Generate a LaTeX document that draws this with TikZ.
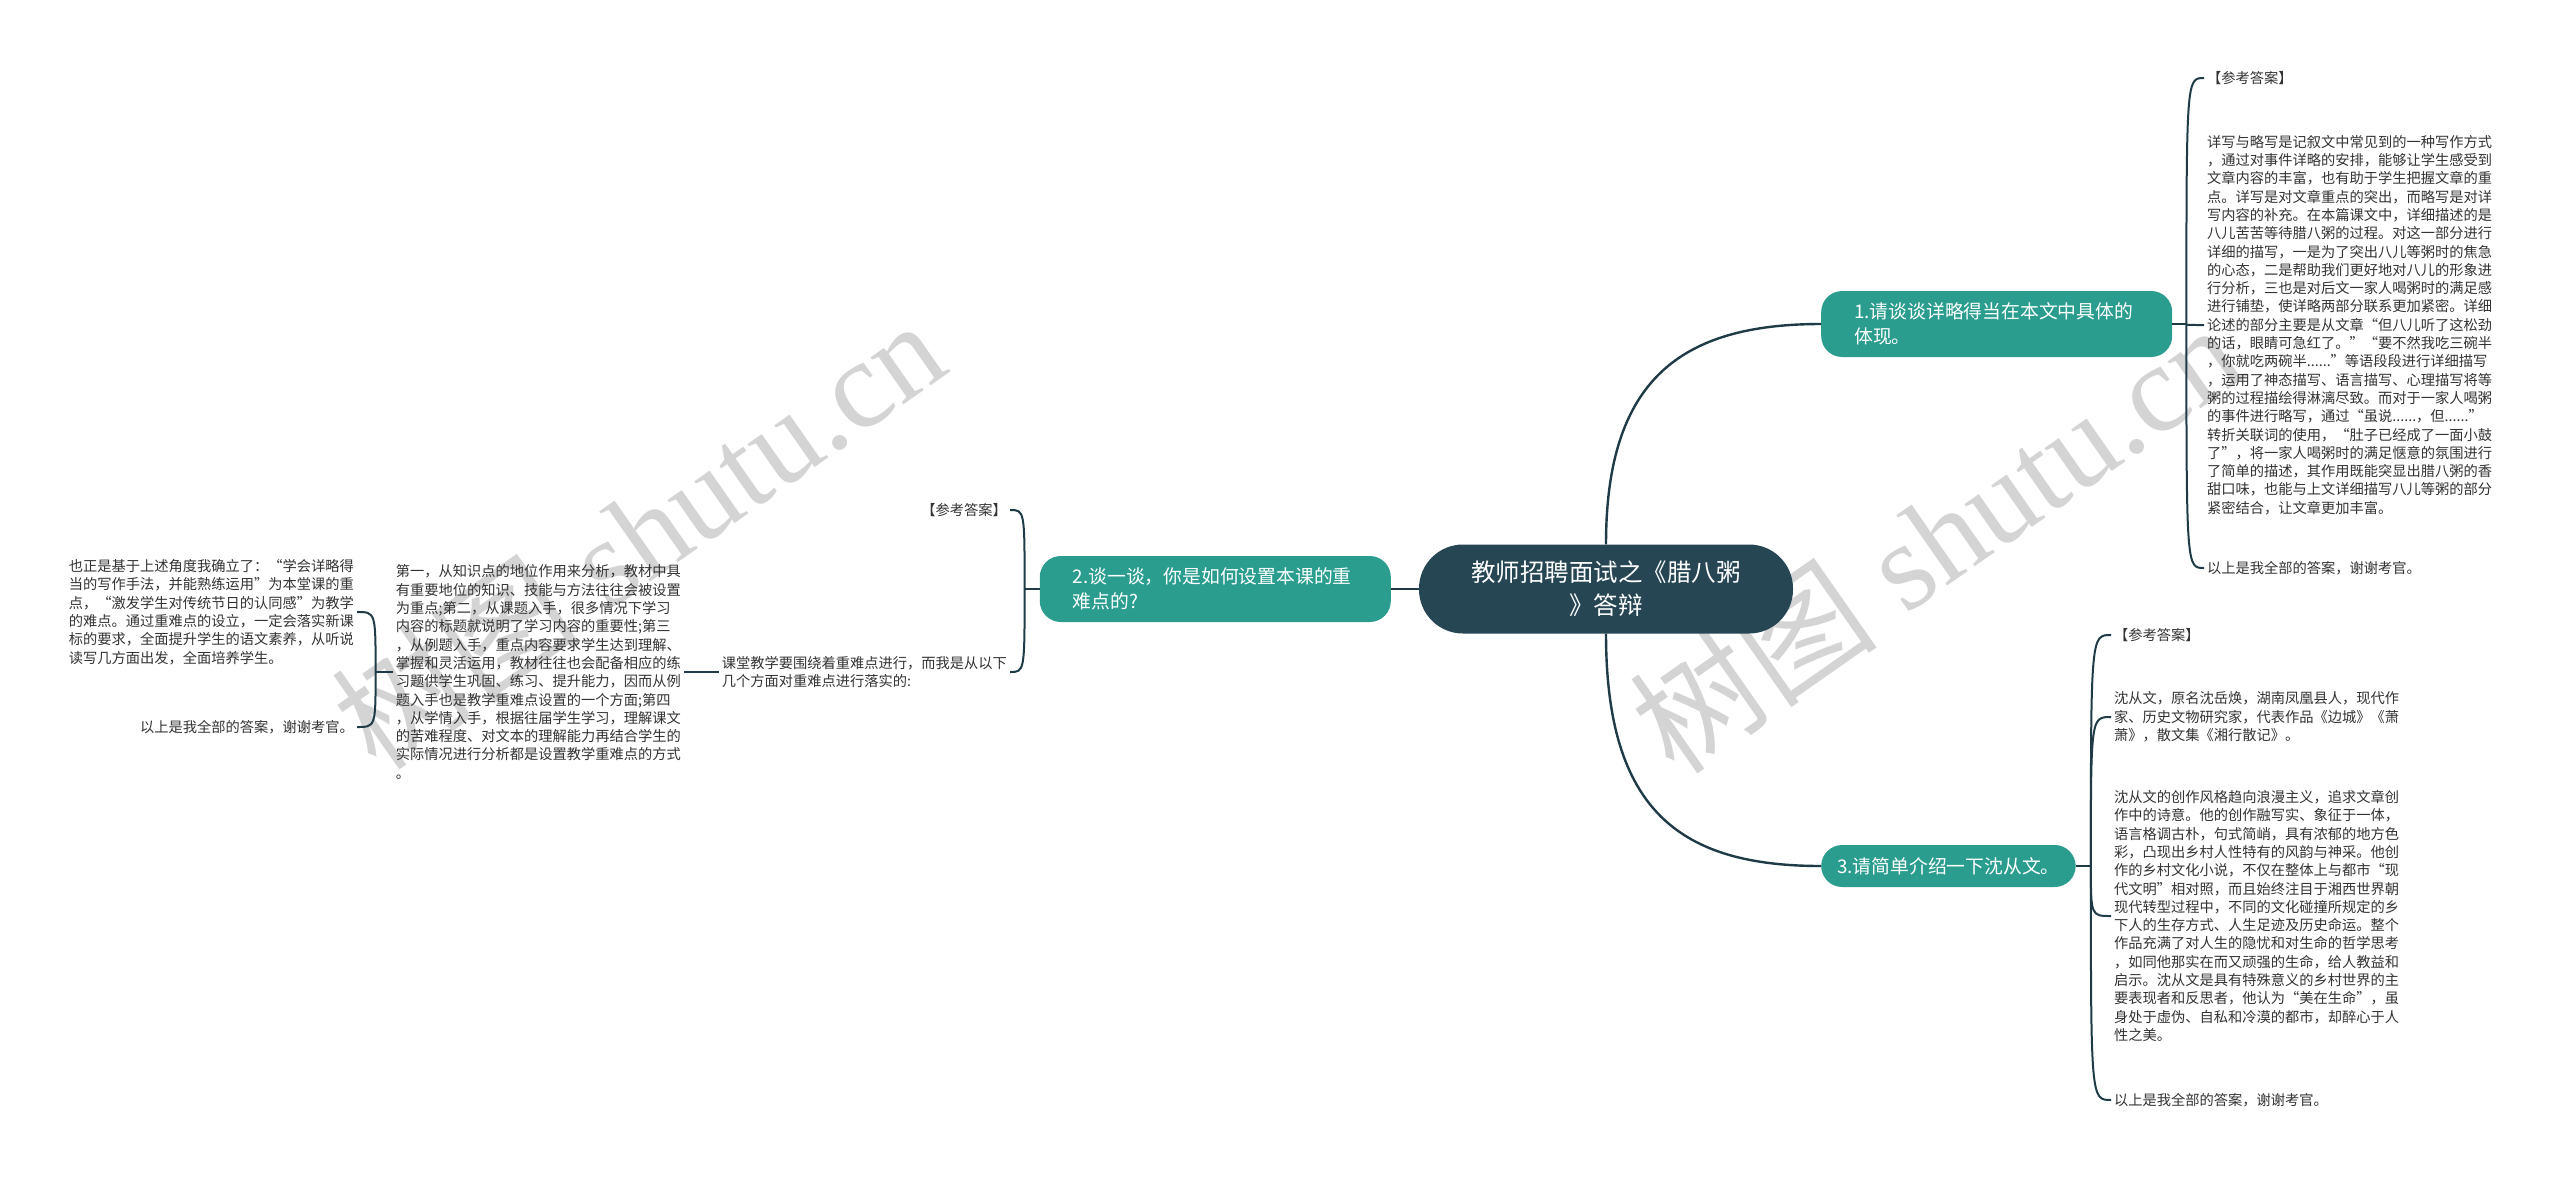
\documentclass[tikz,border=0pt]{standalone}
\usepackage{fontspec}
\setmainfont{Noto Sans CJK SC}
\newfontfamily\wmserif{Liberation Serif}
\usepackage{xcolor}
\usepackage{tikz}
\usetikzlibrary{positioning, calc}

\definecolor{rootcol}{HTML}{264653}
\definecolor{branchcol}{HTML}{2A9D8F}
\definecolor{linecol}{HTML}{1F3B47}
\definecolor{notecol}{HTML}{333333}
\definecolor{wmcol}{RGB}{212,212,212}

\tikzset{
  root/.style={fill=rootcol, text=white, rounded corners=44pt,
    minimum width=374pt, minimum height=89pt, align=center, inner sep=0pt,
    font=\fontsize{24.5}{33}\selectfont},
  branch/.style={fill=branchcol, text=white, rounded corners=21pt,
    align=left, inner ysep=0pt, font=\fontsize{18.8}{25}\selectfont},
  note/.style={text=notecol, align=left, inner sep=3pt,
    font=\fontsize{14.25}{18.3}\selectfont},
  trunk/.style={draw=linecol, line width=2.4pt},
  twig/.style={draw=linecol, line width=2pt},
  wmark/.style={text=wmcol, rotate=35, inner sep=0pt,
    font=\fontsize{125}{125}\selectfont},
}

\begin{document}
\begin{tikzpicture}[x=1pt, y=-1pt]
  \fill[white] (0,0) rectangle (2560,1176);
  \useasboundingbox (0,0) rectangle (2560,1176);

  % ── Watermarks (background) ──
  \node[wmark] (wmleft) at (638,533) {树图{\wmserif{} shutu.cn}};
  \node[wmark] (wmright) at (1935,537) {树图{\wmserif{} shutu.cn}};

  % ── Root and branches ──
  \node[root] (root) at (1606,589) {教师招聘面试之《腊八粥\\》答辩};
  \node[branch, anchor=west, text width=285pt, inner xsep=33pt,
    minimum height=66pt] (b1) at (1821,324)
    {1.请谈谈详略得当在本文中具体的\\体现。};
  \node[branch, anchor=east, text width=285pt, inner xsep=33pt,
    minimum height=66pt] (b2) at (1391,589)
    {2.谈一谈，你是如何设置本课的重\\难点的?};
  \node[branch, anchor=west, inner xsep=16pt, minimum height=42pt]
    (b3) at (1821,866) {3.请简单介绍一下沈从文。};

  \draw[trunk] (root.north) .. controls +(0,-164) and +(-141,0) .. (b1.west);
  \draw[trunk] (root.south) .. controls +(0,177) and +(-141,0) .. (b3.west);
  \draw[trunk] (root.west) -- (b2.east);

  % ── Branch 1 notes ──
  \node[note, anchor=west] (ans1) at (2204,78) {【参考答案】};
  \node[note, anchor=west] (txt1) at (2204,325)
    {详写与略写是记叙文中常见到的一种写作方式\\
     ，通过对事件详略的安排，能够让学生感受到\\
     文章内容的丰富，也有助于学生把握文章的重\\
     点。详写是对文章重点的突出，而略写是对详\\
     写内容的补充。在本篇课文中，详细描述的是\\
     八儿苦苦等待腊八粥的过程。对这一部分进行\\
     详细的描写，一是为了突出八儿等粥时的焦急\\
     的心态，二是帮助我们更好地对八儿的形象进\\
     行分析，三也是对后文一家人喝粥时的满足感\\
     进行铺垫，使详略两部分联系更加紧密。详细\\
     论述的部分主要是从文章“但八儿听了这松劲\\
     的话，眼睛可急红了。”“要不然我吃三碗半\\
     ，你就吃两碗半......”等语段段进行详细描写\\
     ，运用了神态描写、语言描写、心理描写将等\\
     粥的过程描绘得淋漓尽致。而对于一家人喝粥\\
     的事件进行略写，通过“虽说......，但......”\\
     转折关联词的使用，“肚子已经成了一面小鼓\\
     了”，将一家人喝粥时的满足惬意的氛围进行\\
     了简单的描述，其作用既能突显出腊八粥的香\\
     甜口味，也能与上文详细描写八儿等粥的部分\\
     紧密结合，让文章更加丰富。};
  \node[note, anchor=west] (end1) at (2204,568) {以上是我全部的答案，谢谢考官。};

  \coordinate (j1) at ($(b1.east)+(14,0)$);
  \draw[twig] (b1.east) -- (j1);
  \foreach \kid in {ans1, txt1, end1}
    \draw[twig] (j1) .. controls (j1 |- \kid.west) .. (\kid.west);

  % ── Branch 3 notes ──
  \node[note, anchor=west] (ans3) at (2111,635) {【参考答案】};
  \node[note, anchor=west] (t3a) at (2111,717)
    {沈从文，原名沈岳焕，湖南凤凰县人，现代作\\
     家、历史文物研究家，代表作品《边城》《萧\\
     萧》，散文集《湘行散记》。};
  \node[note, anchor=west] (t3b) at (2111,916)
    {沈从文的创作风格趋向浪漫主义，追求文章创\\
     作中的诗意。他的创作融写实、象征于一体，\\
     语言格调古朴，句式简峭，具有浓郁的地方色\\
     彩，凸现出乡村人性特有的风韵与神采。他创\\
     作的乡村文化小说，不仅在整体上与都市“现\\
     代文明”相对照，而且始终注目于湘西世界朝\\
     现代转型过程中，不同的文化碰撞所规定的乡\\
     下人的生存方式、人生足迹及历史命运。整个\\
     作品充满了对人生的隐忧和对生命的哲学思考\\
     ，如同他那实在而又顽强的生命，给人教益和\\
     启示。沈从文是具有特殊意义的乡村世界的主\\
     要表现者和反思者，他认为“美在生命”，虽\\
     身处于虚伪、自私和冷漠的都市，却醉心于人\\
     性之美。};
  \node[note, anchor=west] (end3) at (2111,1100) {以上是我全部的答案，谢谢考官。};

  \coordinate (j3) at ($(b3.east)+(15,0)$);
  \draw[twig] (b3.east) -- (j3);
  \foreach \kid in {ans3, t3a, t3b, end3}
    \draw[twig] (j3) .. controls (j3 |- \kid.west) .. (\kid.west);

  % ── Branch 2 notes (left side) ──
  \node[note, anchor=east] (ans2) at (1010,510) {【参考答案】};
  \node[note, anchor=east] (t2) at (1010,672)
    {课堂教学要围绕着重难点进行，而我是从以下\\
     几个方面对重难点进行落实的:};

  \coordinate (j2) at ($(b2.west)+(-15,0)$);
  \draw[twig] (b2.west) -- (j2);
  \foreach \kid in {ans2, t2}
    \draw[twig] (j2) .. controls (j2 |- \kid.east) .. (\kid.east);

  \node[note, anchor=east] (t2a) at (684,672)
    {第一，从知识点的地位作用来分析，教材中具\\
     有重要地位的知识、技能与方法往往会被设置\\
     为重点;第二，从课题入手，很多情况下学习\\
     内容的标题就说明了学习内容的重要性;第三\\
     ，从例题入手，重点内容要求学生达到理解、\\
     掌握和灵活运用，教材往往也会配备相应的练\\
     习题供学生巩固、练习、提升能力，因而从例\\
     题入手也是教学重难点设置的一个方面;第四\\
     ，从学情入手，根据往届学生学习，理解课文\\
     的苦难程度、对文本的理解能力再结合学生的\\
     实际情况进行分析都是设置教学重难点的方式\\
     。};
  \draw[twig] (t2.west) -- (t2a.east);

  \node[note, anchor=east] (t2b) at (357,612)
    {也正是基于上述角度我确立了：“学会详略得\\
     当的写作手法，并能熟练运用”为本堂课的重\\
     点，“激发学生对传统节日的认同感”为教学\\
     的难点。通过重难点的设立，一定会落实新课\\
     标的要求，全面提升学生的语文素养，从听说\\
     读写几方面出发，全面培养学生。};
  \node[note, anchor=east] (t2c) at (357,727) {以上是我全部的答案，谢谢考官。};

  \coordinate (j2a) at ($(t2a.west)+(-17,0)$);
  \draw[twig] (t2a.west) -- (j2a);
  \foreach \kid in {t2b, t2c}
    \draw[twig] (j2a) .. controls (j2a |- \kid.east) .. (\kid.east);
\end{tikzpicture}
\end{document}
